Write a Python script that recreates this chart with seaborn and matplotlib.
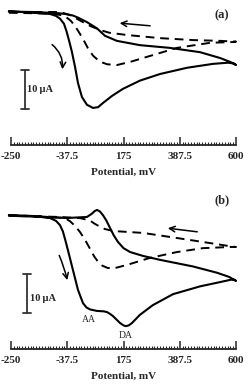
import matplotlib
matplotlib.use("Agg")
import matplotlib.pyplot as plt
import seaborn as sns
import pandas as pd
import numpy as np

# ---------------- data (potential in mV, current in µA) ----------------
a_solid_E = [-258, -167, -103, -80, -65, -50, -40, -30, -20, -8, 3, 18, 37, 60, 79, 98, 132, 173, 237, 313, 415, 513, 570, 592, 600,
             590, 578, 540, 464, 350, 237, 150, 105, 75, 37, 5, -16, -45, -72, -167, -258]
a_solid_I = [0.2, -0.2, -0.5, -1.0, -1.7, -3.0, -5.0, -7.5, -10.2, -14.1, -18.2, -21.8, -23.8, -24.6, -24.4, -23.3, -21.5, -19.7, -17.6, -15.9, -14.3, -13.3, -13.0, -13.2, -13.6,
             -13.2, -12.8, -11.8, -10.3, -9.2, -8.5, -7.4, -6.1, -4.2, -2.6, -1.5, -0.9, -0.5, -0.3, 0.0, 0.1]

a_dash_E = [-258, -103, -60, -40, -25, -10, 5, 22, 40, 60, 85, 113, 150, 200, 249, 377, 502, 589, 600,
            540, 438, 313, 188, 120, 86, 50, 22, -5, -27, -65, -258]
a_dash_I = [-0.2, -0.4, -0.8, -1.4, -2.2, -3.4, -5.0, -6.9, -9.2, -11.2, -12.7, -13.4, -13.6, -12.8, -11.8, -9.2, -7.9, -7.7, -7.6,
            -7.4, -7.2, -6.7, -5.9, -5.3, -4.6, -3.6, -2.6, -1.6, -0.8, 0.0, 0.0]

b_solid_E = [-258, -167, -103, -80, -65, -54, -45, -35, -16, 3, 22, 35, 48, 75, 100, 113, 125, 135, 150, 162, 175, 184, 195, 207, 237, 286, 362, 464, 540, 580, 595, 600,
             592, 575, 528, 438, 313, 249, 200, 175, 154, 138, 124, 110, 98, 86, 75, 66, 55, 37, -38, -167, -258]
b_solid_I = [0.0, -0.26, -0.77, -1.5, -2.6, -4.2, -6.4, -9.0, -14.1, -19.2, -22.6, -23.7, -24.2, -24.6, -24.7, -24.9, -25.4, -25.9, -26.9, -27.7, -28.3, -28.5, -28.3, -27.7, -25.6, -23.1, -20.3, -18.3, -17.2, -16.6, -16.6, -16.9,
             -16.6, -15.9, -14.8, -13.2, -11.5, -10.5, -9.5, -8.5, -6.9, -5.2, -3.3, -1.4, -0.1, 0.9, 1.3, 1.0, 0.3, -0.5, -0.77, -0.4, -0.2]

b_dash_E = [-258, -103, -46, -27, -8, 11, 30, 48, 65, 79, 95, 116, 143, 188, 275, 377, 475, 577, 600,
            577, 502, 377, 249, 135, 105, 86, 65, 48, 11, -65, -258]
b_dash_I = [0.0, -0.5, -0.77, -1.6, -2.8, -4.4, -6.4, -8.6, -10.7, -12.0, -13.0, -13.6, -13.6, -12.8, -11.0, -9.5, -8.5, -8.2, -8.2,
            -8.0, -7.2, -5.9, -4.6, -4.1, -3.6, -3.0, -2.2, -1.4, -0.8, -0.5, -0.2]

x_ticks = [-250, -37.5, 175, 387.5, 600]
x_ticklabels = ["-250", "-37.5", "175", "387.5", "600"]
panel_labels = ["(a)", "(b)"]
x_label = "Potential, mV"
scale_label = "10\u2009µA"

# ---------------- figure ----------------
sns.set_style("white")
plt.rcParams["font.family"] = ["Liberation Serif", "DejaVu Serif"]

fig = plt.figure(figsize=(2.52, 3.89), dpi=100)
ax_a = fig.add_axes([11/252, 1-145/389, 225/252, 140/389])
ax_b = fig.add_axes([11/252, 1-349/389, 225/252, 157/389])

def draw_curves(ax, sE, sI, dE, dI):
    df_s = pd.DataFrame({"E": sE, "I": sI})
    df_d = pd.DataFrame({"E": dE, "I": dI})
    sns.lineplot(data=df_s, x="E", y="I", sort=False, estimator=None, ax=ax,
                 color="black", lw=1.5)
    sns.lineplot(data=df_d, x="E", y="I", sort=False, estimator=None, ax=ax,
                 color="black", lw=1.4, dashes=False)
    ax.lines[-1].set_dashes((4.5, 3))
    for ln in ax.lines:
        ln.set_clip_on(False)
        ln.set_solid_joinstyle("round")
        ln.set_dash_joinstyle("round")

draw_curves(ax_a, a_solid_E, a_solid_I, a_dash_E, a_dash_I)
draw_curves(ax_b, b_solid_E, b_solid_I, b_dash_E, b_dash_I)

ax_a.set_ylim((12-145)/3.9, (12-5)/3.9)
ax_b.set_ylim((215-349)/3.9, (215-192)/3.9)

minor = np.arange(-250, 600.01, 850/80)
for ax in (ax_a, ax_b):
    ax.set_xlim(-250, 600)
    for s in ("left", "right", "top"):
        ax.spines[s].set_visible(False)
    ax.spines["bottom"].set_linewidth(1.3)
    ax.set_yticks([])
    ax.set_xticks(x_ticks)
    ax.set_xticklabels(x_ticklabels, fontsize=8, fontweight="bold")
    ax.set_xticks(minor, minor=True)
    ax.tick_params(axis="x", which="major", direction="in", length=5.5, width=1.1, pad=5, bottom=True)
    ax.tick_params(axis="x", which="minor", direction="in", length=2.2, width=0.8, bottom=True)
    ax.set_xlabel(x_label, fontsize=8, fontweight="bold", labelpad=5)
    ax.set_ylabel("")
    ax.patch.set_alpha(0)

# scale bars
def scale_bar(ax, x, y0, label_x, label_y):
    ax.plot([x, x], [y0, y0-10], color="#333333", lw=1.3, clip_on=False)
    ax.plot([x-14, x+14], [y0, y0], color="#333333", lw=1.3, clip_on=False)
    ax.plot([x-14, x+14], [y0-10, y0-10], color="#333333", lw=1.3, clip_on=False)
    ax.text(label_x, label_y, scale_label, fontsize=7.5, fontweight="bold", va="center", ha="left")

scale_bar(ax_a, -197, -14.9, -188, -20.0)
scale_bar(ax_b, -190, -15.1, -180, -21.3)

# panel labels
ax_a.text(547, -0.8, panel_labels[0], fontsize=9, fontweight="bold", ha="center", va="center")
ax_b.text(547, 3.8, panel_labels[1], fontsize=9, fontweight="bold", ha="center", va="center")

# peak labels
ax_b.text(45, -26.9, "AA", fontsize=7, ha="center", va="center")
ax_b.text(184, -30.8, "DA", fontsize=7, ha="center", va="center")

# arrows
arr = dict(arrowstyle="->", color="black", lw=1.1, mutation_scale=10)
ax_a.annotate("", xy=(150, -2.8), xytext=(286, -3.6), arrowprops=arr)
ax_a.annotate("", xy=(-57, -15.4), xytext=(-103, -7.9),
              arrowprops=dict(arr, connectionstyle="arc3,rad=-0.3"))
ax_b.annotate("", xy=(332, -3.3), xytext=(464, -4.4), arrowprops=arr)
ax_b.annotate("", xy=(-35, -17.4), xytext=(-72, -9.7),
              arrowprops=dict(arr, connectionstyle="arc3,rad=-0.05"))

fig.savefig("out.png", dpi=100)
